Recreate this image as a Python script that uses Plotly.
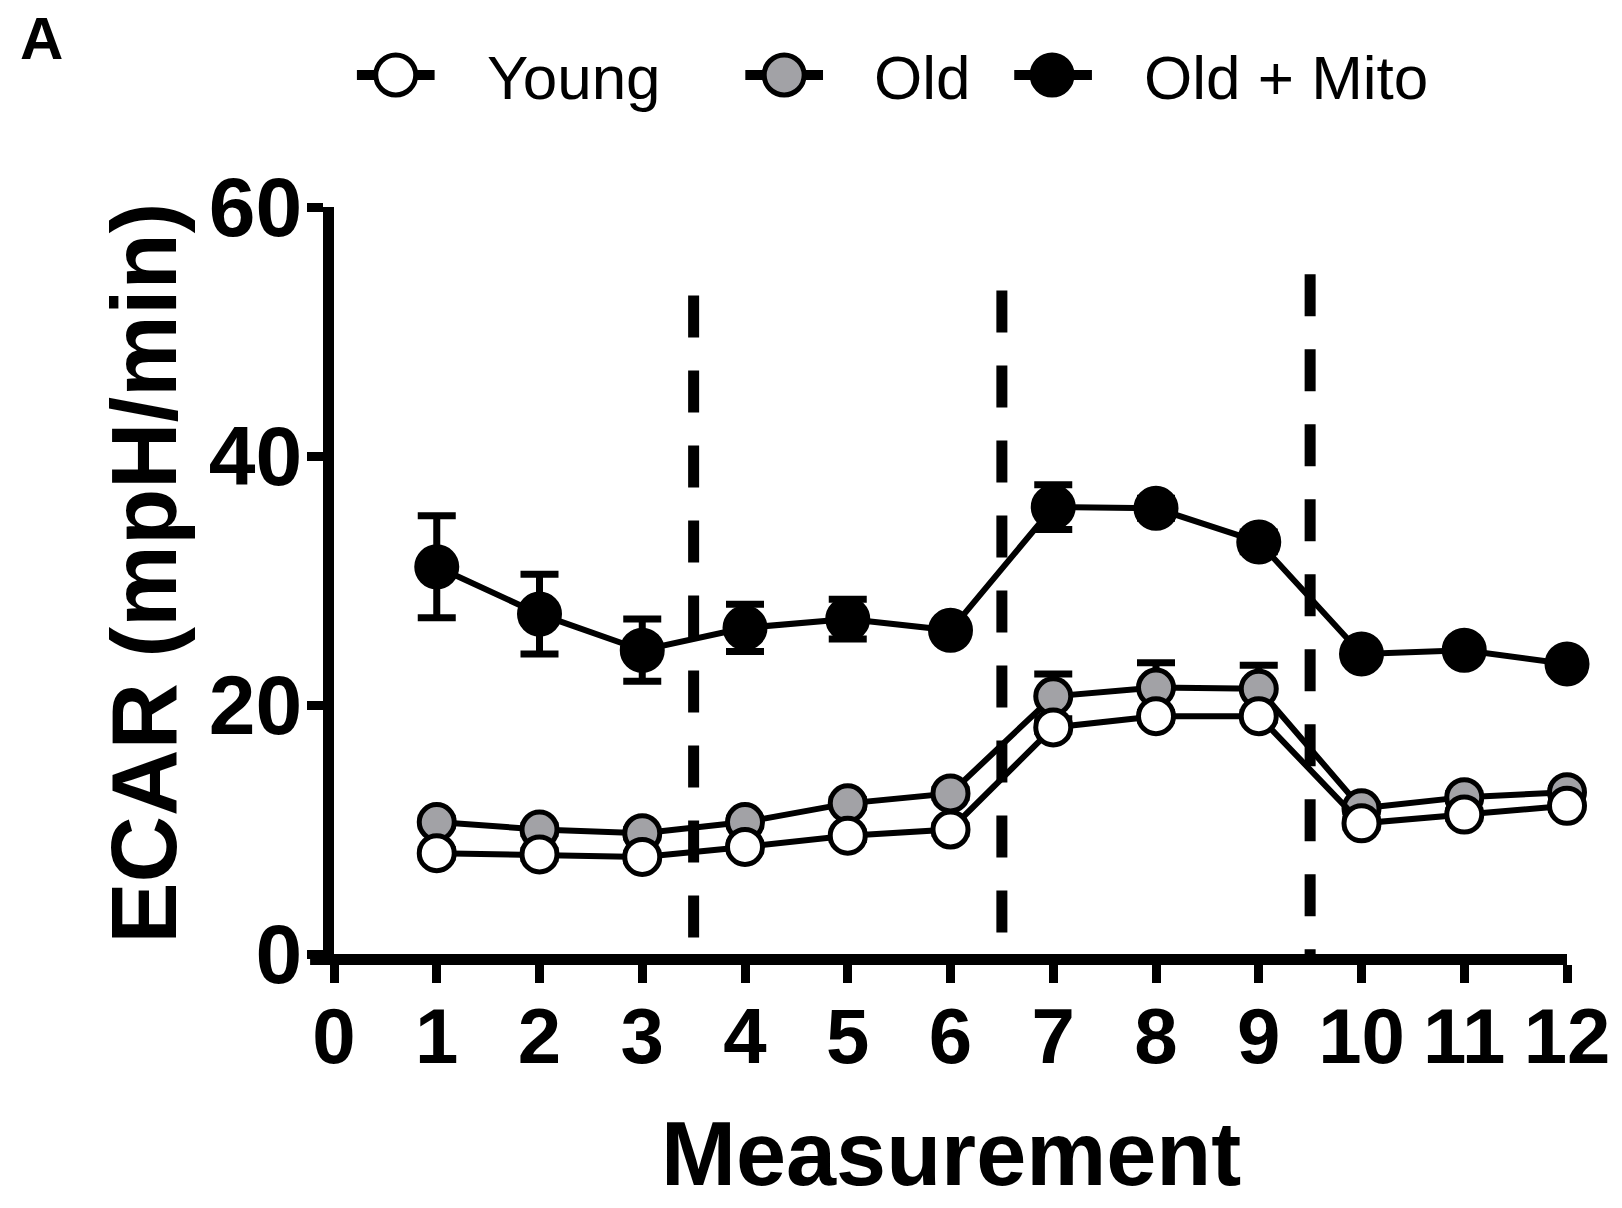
import plotly.graph_objects as go

# ---------------- data ----------------
measurement = [1, 2, 3, 4, 5, 6, 7, 8, 9, 10, 11, 12]
young = [8.1, 8.0, 7.8, 8.6, 9.5, 10.0, 18.2, 19.1, 19.1, 10.5, 11.2, 11.9]
young_err = [0.3, 0.3, 0.3, 0.3, 0.3, 0.3, 0.3, 0.3, 0.3, 0.3, 0.3, 0.3]
old = [10.6, 10.0, 9.7, 10.6, 12.1, 12.9, 20.7, 21.4, 21.3, 11.7, 12.6, 13.0]
old_err = [0.3, 0.3, 0.3, 0.3, 0.3, 0.3, 1.8, 2.0, 1.9, 0.3, 0.3, 0.3]
old_mito = [31.1, 27.3, 24.4, 26.2, 26.9, 26.0, 35.9, 35.8, 33.1, 24.1, 24.4, 23.3]
old_mito_err = [4.1, 3.2, 2.5, 1.9, 1.6, 0.6, 1.8, 0.8, 0.8, 0.6, 0.6, 0.6]

injection_x = [3.5, 6.5, 9.5]
injection_labels = ["O", "F", "R/A"]
injection_top = [52.9, 53.3, 54.6]

x_ticks = list(range(0, 13))
y_ticks = [0, 20, 40, 60]

FONT = "Liberation Sans, Arial, sans-serif"

# ---------------- geometry helpers (layout only) ----------------
W, H = 1622, 1208
L, R, T, B = 334, 50, 207, 254
PX0, PX1 = L, W - R
PY0, PY1 = T, H - B


def pxx(x):
    return (x - PX0) / (PX1 - PX0)


def pxy(y):
    return (PY1 - y) / (PY1 - PY0)


fig = go.Figure()

traces = [
    (old_mito, old_mito_err, "Old + Mito", "black", 40),
    (old, old_err, "Old", "#a2a2a6", 35),
    (young, young_err, "Young", "white", 35),
]
for vals, err, name, fill, size in traces:
    fig.add_trace(go.Scatter(
        x=measurement, y=vals, name=name, mode="lines+markers",
        line=dict(color="black", width=6),
        marker=dict(symbol="circle", size=size, color=fill,
                    line=dict(color="black", width=5)),
        error_y=dict(type="data", array=err, visible=True, color="black",
                     thickness=7, width=19),
        cliponaxis=False, showlegend=False,
    ))

shapes = []
annotations = []
for xv, lab, top in zip(injection_x, injection_labels, injection_top):
    shapes.append(dict(type="line", xref="x", yref="y", x0=xv, x1=xv,
                       y0=top, y1=0, layer="below",
                       line=dict(color="black", width=11, dash="42px,33px")))
    annotations.append(dict(x=xv + 0.05, y=61.3, xref="x", yref="y", text=lab,
                            showarrow=False, xanchor="center", yanchor="middle",
                            font=dict(family=FONT, size=56, color="black")))

# x axis line extends slightly left of the y axis (GraphPad style)
shapes.append(dict(type="line", xref="paper", yref="paper",
                   x0=pxx(310), x1=pxx(330), y0=pxy(959.5), y1=pxy(959.5),
                   line=dict(color="black", width=11)))

# manual legend
leg_y = 75
leg_items = [
    ("Young", "white", 357, 435, 396, 486),
    ("Old", "#a2a2a6", 747, 825, 786, 874),
    ("Old + Mito", "black", 1017, 1095, 1055, 1145),
]
for name, fill, lx0, lx1, mx, tx in leg_items:
    shapes.append(dict(type="line", xref="paper", yref="paper",
                       x0=pxx(lx0), x1=pxx(lx1), y0=pxy(leg_y), y1=pxy(leg_y),
                       line=dict(color="black", width=10)))
    shapes.append(dict(type="circle", xref="paper", yref="paper",
                       xsizemode="pixel", ysizemode="pixel",
                       xanchor=pxx(mx), yanchor=pxy(leg_y),
                       x0=-20, x1=20, y0=-20, y1=20,
                       fillcolor=fill, line=dict(color="black", width=5)))
    annotations.append(dict(x=pxx(tx), y=pxy(leg_y + 2), xref="paper", yref="paper",
                            text=name, showarrow=False, xanchor="left",
                            yanchor="middle",
                            font=dict(family=FONT, size=62, color="black")))

# panel label
annotations.append(dict(x=pxx(40), y=pxy(38), xref="paper", yref="paper",
                        text="<b>A</b>", showarrow=False, xanchor="center",
                        yanchor="middle",
                        font=dict(family=FONT, size=60, color="black")))
# axis titles
annotations.append(dict(x=pxx(143), y=pxy(573), xref="paper", yref="paper",
                        text="<b>ECAR (mpH/min)</b>", showarrow=False,
                        textangle=-90, xanchor="center", yanchor="middle",
                        font=dict(family=FONT, size=92, color="black")))
annotations.append(dict(x=pxx(954), y=pxy(1154), xref="paper", yref="paper",
                        text="<b>Measurement</b>", showarrow=False,
                        xanchor="center", yanchor="middle",
                        font=dict(family=FONT, size=90, color="black")))

fig.update_layout(
    width=W, height=H,
    margin=dict(l=L, r=R, t=T, b=B),
    paper_bgcolor="white", plot_bgcolor="white",
    shapes=shapes, annotations=annotations,
    showlegend=False,
    xaxis=dict(range=[0, 12], tickvals=x_ticks, ticktext=[str(v) for v in x_ticks],
               showline=True, linewidth=11, linecolor="black",
               ticks="outside", ticklen=18, tickwidth=9, tickcolor="black",
               showgrid=False, zeroline=False, ticklabelstandoff=-14,
               tickfont=dict(family=FONT, size=78, color="black", weight="bold")),
    yaxis=dict(range=[0, 60], tickvals=y_ticks,
               showline=True, linewidth=11, linecolor="black",
               ticks="outside", ticklen=16, tickwidth=9, tickcolor="black",
               showgrid=False, zeroline=False, ticklabelstandoff=-12,
               tickfont=dict(family=FONT, size=84, color="black", weight="bold")),
)

fig.write_html("out.html")
